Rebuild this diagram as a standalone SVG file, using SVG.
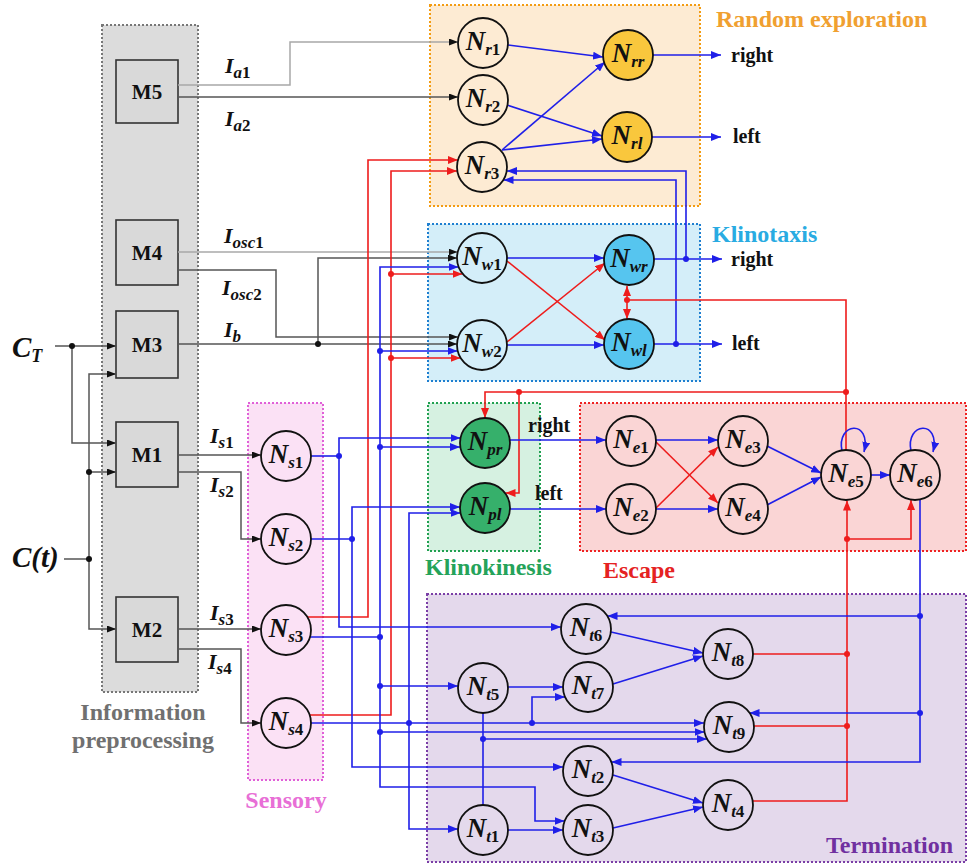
<svg xmlns="http://www.w3.org/2000/svg" width="968" height="865" viewBox="0 0 968 865">
<defs>
<style>
text{font-family:"Liberation Serif","Times New Roman",serif;font-weight:bold}
.nd circle{stroke:#111;stroke-width:1.8}
.nl{font-size:27px;font-style:italic;text-anchor:middle;fill:#111}
.s{font-size:17px;font-style:italic}
.d{font-size:17px;font-style:normal}
.bx{stroke-width:2;stroke-dasharray:2 2}
.b{fill:none;stroke:#1f1fe8;stroke-width:1.6}
.r{fill:none;stroke:#ee1c1c;stroke-width:1.6}
.k1{fill:none;stroke:#a8a8a8;stroke-width:1.5}
.k2{fill:none;stroke:#555;stroke-width:1.5}
.db{fill:#1f1fe8}.dr{fill:#ee1c1c}.dk{fill:#111}
.lab{font-size:20px;fill:#111}
.ttl{font-size:24px}
.iv{font-size:22px;font-style:italic;fill:#111}
.m{font-size:21px;text-anchor:middle;fill:#111}
.mb{fill:#d9d9d9;stroke:#333;stroke-width:1.6}
</style>
<marker id="ab" viewBox="0 0 10 8" refX="10" refY="4" markerWidth="10" markerHeight="8" markerUnits="userSpaceOnUse" orient="auto"><path d="M0,0L10,4L0,8z" fill="#1f1fe8"/></marker>
<marker id="ar" viewBox="0 0 10 8" refX="10" refY="4" markerWidth="10" markerHeight="8" markerUnits="userSpaceOnUse" orient="auto"><path d="M0,0L10,4L0,8z" fill="#ee1c1c"/></marker>
<marker id="ak" viewBox="0 0 9 7" refX="9" refY="3.5" markerWidth="9" markerHeight="7" markerUnits="userSpaceOnUse" orient="auto"><path d="M0,0L9,3.5L0,7z" fill="#111"/></marker>
</defs>
<rect width="968" height="865" fill="#fff"/>

<!-- module regions -->
<g id="regions">
<rect class="bx" x="102" y="25" width="96" height="667" fill="#dcdcdc" stroke="#777"/>
<rect class="bx" x="430" y="5" width="270" height="201" fill="#fdebd3" stroke="#f39c12"/>
<rect class="bx" x="428" y="224" width="272" height="157" fill="#d4eef9" stroke="#1e7fd0"/>
<rect class="bx" x="248" y="403" width="75" height="377" fill="#fbe1f5" stroke="#e060d8"/>
<rect class="bx" x="428" y="403" width="112" height="148" fill="#d6f1e1" stroke="#20a050"/>
<rect class="bx" x="580" y="403" width="386" height="148" fill="#fad5d5" stroke="#ee2222"/>
<rect class="bx" x="427" y="594" width="539" height="268" fill="#e4d9ec" stroke="#7a3ea6"/>
<text class="ttl" x="716" y="27" fill="#f0a030">Random exploration</text>
<text class="ttl" x="712" y="242" fill="#29abe2">Klinotaxis</text>
<text class="ttl" x="425" y="575" fill="#25a35a">Klinokinesis</text>
<text class="ttl" x="603" y="578" fill="#e52222">Escape</text>
<text class="ttl" x="826" y="853" fill="#7030a0">Termination</text>
<text class="ttl" x="286" y="808" fill="#e86fd6" text-anchor="middle">Sensory</text>
<text class="ttl" x="143" y="720" fill="#707070" text-anchor="middle">Information</text>
<text class="ttl" x="143" y="748" fill="#707070" text-anchor="middle">preprocessing</text>
</g>

<!-- preprocessing modules -->
<g id="M5"><rect class="mb" x="116" y="60" width="62" height="63"/><text class="m" x="147" y="99">M5</text></g>
<g id="M4"><rect class="mb" x="116" y="220" width="62" height="65"/><text class="m" x="147" y="260">M4</text></g>
<g id="M3"><rect class="mb" x="116" y="311" width="62" height="67"/><text class="m" x="147" y="352">M3</text></g>
<g id="M1"><rect class="mb" x="116" y="422" width="62" height="65"/><text class="m" x="147" y="462">M1</text></g>
<g id="M2"><rect class="mb" x="116" y="597" width="62" height="65"/><text class="m" x="147" y="637">M2</text></g>

<!-- inputs -->
<g id="inputs">
<text x="12" y="357" font-size="29" font-style="italic" fill="#111">C<tspan font-size="18" dy="5">T</tspan></text>
<text x="12" y="567" font-size="29" font-style="italic" fill="#111">C(t)</text>
</g>

<!-- connectors -->
<g id="connectors">
<!-- stimulus inputs to modules -->
<path class="k2" d="M55,346H116" marker-end="url(#ak)"/>
<path class="k2" d="M72,346V443H116" marker-end="url(#ak)"/>
<path class="k2" d="M64,559H89"/>
<path class="k2" d="M89,559V374H116" marker-end="url(#ak)"/>
<path class="k2" d="M89,559V629H116" marker-end="url(#ak)"/>
<path class="k2" d="M89,472H116" marker-end="url(#ak)"/>
<circle class="dk" cx="72" cy="346" r="3"/><circle class="dk" cx="89" cy="472" r="3"/><circle class="dk" cx="89" cy="559" r="3"/>

<!-- module outputs -->
<path class="k1" d="M178,85H290V42H458" marker-end="url(#ak)"/>
<path class="k2" d="M178,97H458" marker-end="url(#ak)"/>
<path class="k1" d="M178,252H457.5" marker-end="url(#ak)"/>
<path class="k2" d="M178,270H276V337H458" marker-end="url(#ak)"/>
<path class="k2" d="M178,344H457" marker-end="url(#ak)"/>
<path class="k2" d="M318,344V258H457" marker-end="url(#ak)"/>
<circle class="dk" cx="318" cy="344" r="3"/>
<path class="k2" d="M178,455H261" marker-end="url(#ak)"/>
<path class="k2" d="M178,472H241V539H261" marker-end="url(#ak)"/>
<path class="k2" d="M178,629H261" marker-end="url(#ak)"/>
<path class="k2" d="M178,649H241V723H261" marker-end="url(#ak)"/>

<!-- sensory inhibitory outputs -->
<path class="r" d="M307,617H368V160H458" marker-end="url(#ar)"/>
<path class="r" d="M310,715H391V171H457" marker-end="url(#ar)"/>
<path class="r" d="M391,274H462.5" marker-end="url(#ar)"/>
<path class="r" d="M391,358H460.5" marker-end="url(#ar)"/>
<circle class="dr" cx="391" cy="274" r="3"/><circle class="dr" cx="391" cy="358" r="3"/>

<!-- sensory excitatory buses -->
<path class="b" d="M311,456H339"/>
<path class="b" d="M339,456V438H460.5" marker-end="url(#ab)"/>
<path class="b" d="M339,456V627H561" marker-end="url(#ab)"/>
<circle class="db" cx="339" cy="456" r="3"/>
<path class="b" d="M311,539H352"/>
<path class="b" d="M352,539V507H460" marker-end="url(#ab)"/>
<path class="b" d="M352,539V767H563" marker-end="url(#ab)"/>
<circle class="db" cx="352" cy="539" r="3"/>
<path class="b" d="M310,637H380"/>
<path class="b" d="M380,637V267H458.5" marker-end="url(#ab)"/>
<path class="b" d="M380,351H457.5" marker-end="url(#ab)"/>
<path class="b" d="M380,447H460" marker-end="url(#ab)"/>
<path class="b" d="M380,637V787H535V821H564.5" marker-end="url(#ab)"/>
<path class="b" d="M380,686H458" marker-end="url(#ab)"/>
<path class="b" d="M380,732H704.5" marker-end="url(#ab)"/>
<circle class="db" cx="380" cy="351" r="3"/><circle class="db" cx="380" cy="447" r="3"/><circle class="db" cx="380" cy="637" r="3"/><circle class="db" cx="380" cy="686" r="3"/><circle class="db" cx="380" cy="732" r="3"/>
<path class="b" d="M311,723H704" marker-end="url(#ab)"/>
<path class="b" d="M409,723V513H460.5" marker-end="url(#ab)"/>
<path class="b" d="M409,723V829H458" marker-end="url(#ab)"/>
<path class="b" d="M532,723V697H565" marker-end="url(#ab)"/>
<circle class="db" cx="409" cy="723" r="3"/><circle class="db" cx="532" cy="723" r="3"/>

<!-- random exploration -->
<path class="b" d="M508,45L603,57" marker-end="url(#ab)"/>
<path class="b" d="M507,105L602,136" marker-end="url(#ab)"/>
<path class="b" d="M502,150L605,62" marker-end="url(#ab)"/>
<path class="b" d="M502,150L602,139" marker-end="url(#ab)"/>
<path class="b" d="M653,55H721" marker-end="url(#ab)"/>
<path class="b" d="M652,137H721" marker-end="url(#ab)"/>

<!-- klinotaxis -->
<path class="b" d="M507,258H604" marker-end="url(#ab)"/>
<path class="b" d="M507,345H604" marker-end="url(#ab)"/>
<path class="r" d="M507,261L605,340" marker-end="url(#ar)"/>
<path class="r" d="M507,342L605,263" marker-end="url(#ar)"/>
<path class="b" d="M654,259H722" marker-end="url(#ab)"/>
<path class="b" d="M654,344H722" marker-end="url(#ab)"/>
<path class="b" d="M686,259V171H507" marker-end="url(#ab)"/>
<path class="b" d="M676,344V180H503.5" marker-end="url(#ab)"/>
<circle class="db" cx="686" cy="259" r="3"/><circle class="db" cx="676" cy="344" r="3"/>
<path class="r" d="M627,300V286" marker-end="url(#ar)"/>
<path class="r" d="M627,300V319" marker-end="url(#ar)"/>
<circle class="dr" cx="627" cy="300" r="3"/>

<!-- escape feedback -->
<path class="r" d="M627,300H846V450"/>
<path class="r" d="M846,392H485V418" marker-end="url(#ar)"/>
<path class="r" d="M519,392V493H505.5" marker-end="url(#ar)"/>
<circle class="dr" cx="846" cy="392" r="3"/><circle class="dr" cx="519" cy="392" r="3"/>

<!-- klinokinesis to escape -->
<path class="b" d="M510,440H606" marker-end="url(#ab)"/>
<path class="b" d="M510,509H606" marker-end="url(#ab)"/>

<!-- escape -->
<path class="b" d="M656,440H718" marker-end="url(#ab)"/>
<path class="b" d="M656,509H718" marker-end="url(#ab)"/>
<path class="r" d="M656,442L718,503" marker-end="url(#ar)"/>
<path class="r" d="M656,508L718,447" marker-end="url(#ar)"/>
<path class="b" d="M767,446L821,473" marker-end="url(#ab)"/>
<path class="b" d="M767,505L821,477" marker-end="url(#ab)"/>
<path class="b" d="M871,475H890" marker-end="url(#ab)"/>
<path class="b" d="M842,451C836,422 872,419 864,452" marker-end="url(#ab)"/>
<path class="b" d="M911,451C905,422 941,419 933,452" marker-end="url(#ab)"/>

<!-- termination to escape -->
<path class="r" d="M752.5,801H847V500.5" marker-end="url(#ar)"/>
<path class="r" d="M753,654H847"/>
<path class="r" d="M754,726H847"/>
<path class="r" d="M847,539H911V500" marker-end="url(#ar)"/>
<circle class="dr" cx="847" cy="654" r="3"/><circle class="dr" cx="847" cy="726" r="3"/><circle class="dr" cx="847" cy="539" r="3"/>

<!-- escape to termination -->
<path class="b" d="M920,500V762H611.5" marker-end="url(#ab)"/>
<path class="b" d="M920,616H607.5" marker-end="url(#ab)"/>
<path class="b" d="M920,713H749.5" marker-end="url(#ab)"/>
<circle class="db" cx="920" cy="616" r="3"/><circle class="db" cx="920" cy="713" r="3"/>

<!-- termination -->
<path class="b" d="M611,632L703,653" marker-end="url(#ab)"/>
<path class="b" d="M613,684L703,656" marker-end="url(#ab)"/>
<path class="b" d="M613,775L703,803" marker-end="url(#ab)"/>
<path class="b" d="M613,828L703,807" marker-end="url(#ab)"/>
<path class="b" d="M508,687H563" marker-end="url(#ab)"/>
<path class="b" d="M508,830H563" marker-end="url(#ab)"/>
<path class="b" d="M483,713V805"/>
<path class="b" d="M483,739H707" marker-end="url(#ab)"/>
<circle class="db" cx="483" cy="739" r="3"/>
</g>

<!-- signal labels -->
<g id="signal-labels">
<text class="iv" x="225" y="73">I<tspan class="s" dy="5">a</tspan><tspan class="d">1</tspan></text>
<text class="iv" x="225" y="126">I<tspan class="s" dy="5">a</tspan><tspan class="d">2</tspan></text>
<text class="iv" x="224" y="243">I<tspan class="s" dy="5">osc</tspan><tspan class="d">1</tspan></text>
<text class="iv" x="222" y="295">I<tspan class="s" dy="5">osc</tspan><tspan class="d">2</tspan></text>
<text class="iv" x="224" y="337">I<tspan class="s" dy="5">b</tspan></text>
<text class="iv" x="210" y="443">I<tspan class="s" dy="5">s</tspan><tspan class="d">1</tspan></text>
<text class="iv" x="210" y="492">I<tspan class="s" dy="5">s</tspan><tspan class="d">2</tspan></text>
<text class="iv" x="210" y="620">I<tspan class="s" dy="5">s</tspan><tspan class="d">3</tspan></text>
<text class="iv" x="208" y="669">I<tspan class="s" dy="5">s</tspan><tspan class="d">4</tspan></text>
<text class="lab" x="731" y="62">right</text>
<text class="lab" x="733" y="143">left</text>
<text class="lab" x="731" y="266">right</text>
<text class="lab" x="732" y="350">left</text>
<text class="lab" x="528" y="432">right</text>
<text class="lab" x="535" y="500">left</text>
</g>

<!-- random exploration neurons -->
<g id="Nr1" class="nd"><circle cx="483" cy="43" r="25" fill="none"/><text class="nl" x="483" y="50">N<tspan class="s" dy="5">r</tspan><tspan class="d">1</tspan></text></g>
<g id="Nr2" class="nd"><circle cx="483" cy="100" r="25" fill="none"/><text class="nl" x="483" y="107">N<tspan class="s" dy="5">r</tspan><tspan class="d">2</tspan></text></g>
<g id="Nr3" class="nd"><circle cx="482" cy="167" r="25" fill="none"/><text class="nl" x="482" y="174">N<tspan class="s" dy="5">r</tspan><tspan class="d">3</tspan></text></g>
<g id="Nrr" class="nd"><circle cx="628" cy="55" r="25" fill="#f9c73d"/><text class="nl" x="628" y="62">N<tspan class="s" dy="5">rr</tspan></text></g>
<g id="Nrl" class="nd"><circle cx="627" cy="137" r="25" fill="#f9c73d"/><text class="nl" x="627" y="144">N<tspan class="s" dy="5">rl</tspan></text></g>

<!-- klinotaxis neurons -->
<g id="Nw1" class="nd"><circle cx="482" cy="258" r="25" fill="none"/><text class="nl" x="482" y="265">N<tspan class="s" dy="5">w</tspan><tspan class="d">1</tspan></text></g>
<g id="Nw2" class="nd"><circle cx="482" cy="345" r="25" fill="none"/><text class="nl" x="482" y="352">N<tspan class="s" dy="5">w</tspan><tspan class="d">2</tspan></text></g>
<g id="Nwr" class="nd"><circle cx="629" cy="260" r="25" fill="#56c5ef"/><text class="nl" x="629" y="267">N<tspan class="s" dy="5">wr</tspan></text></g>
<g id="Nwl" class="nd"><circle cx="629" cy="344" r="25" fill="#56c5ef"/><text class="nl" x="629" y="351">N<tspan class="s" dy="5">wl</tspan></text></g>

<!-- sensory neurons -->
<g id="Ns1" class="nd"><circle cx="286" cy="456" r="25" fill="none"/><text class="nl" x="286" y="463">N<tspan class="s" dy="5">s</tspan><tspan class="d">1</tspan></text></g>
<g id="Ns2" class="nd"><circle cx="286" cy="539" r="25" fill="none"/><text class="nl" x="286" y="546">N<tspan class="s" dy="5">s</tspan><tspan class="d">2</tspan></text></g>
<g id="Ns3" class="nd"><circle cx="286" cy="630" r="25" fill="none"/><text class="nl" x="286" y="637">N<tspan class="s" dy="5">s</tspan><tspan class="d">3</tspan></text></g>
<g id="Ns4" class="nd"><circle cx="286" cy="723" r="25" fill="none"/><text class="nl" x="286" y="730">N<tspan class="s" dy="5">s</tspan><tspan class="d">4</tspan></text></g>

<!-- klinokinesis neurons -->
<g id="Npr" class="nd"><circle cx="485" cy="443" r="25" fill="#36b06b"/><text class="nl" x="485" y="450">N<tspan class="s" dy="5">pr</tspan></text></g>
<g id="Npl" class="nd"><circle cx="485" cy="508" r="25" fill="#36b06b"/><text class="nl" x="485" y="515">N<tspan class="s" dy="5">pl</tspan></text></g>

<!-- escape neurons -->
<g id="Ne1" class="nd"><circle cx="631" cy="441" r="25" fill="none"/><text class="nl" x="631" y="448">N<tspan class="s" dy="5">e</tspan><tspan class="d">1</tspan></text></g>
<g id="Ne2" class="nd"><circle cx="631" cy="509" r="25" fill="none"/><text class="nl" x="631" y="516">N<tspan class="s" dy="5">e</tspan><tspan class="d">2</tspan></text></g>
<g id="Ne3" class="nd"><circle cx="743" cy="441" r="25" fill="none"/><text class="nl" x="743" y="448">N<tspan class="s" dy="5">e</tspan><tspan class="d">3</tspan></text></g>
<g id="Ne4" class="nd"><circle cx="743" cy="509" r="25" fill="none"/><text class="nl" x="743" y="516">N<tspan class="s" dy="5">e</tspan><tspan class="d">4</tspan></text></g>
<g id="Ne5" class="nd"><circle cx="846" cy="475" r="25" fill="none"/><text class="nl" x="846" y="482" font-weight="normal">N<tspan class="s" dy="5">e</tspan><tspan class="d">5</tspan></text></g>
<g id="Ne6" class="nd"><circle cx="915" cy="475" r="25" fill="none"/><text class="nl" x="915" y="482" font-weight="normal">N<tspan class="s" dy="5">e</tspan><tspan class="d">6</tspan></text></g>

<!-- termination neurons -->
<g id="Nt6" class="nd"><circle cx="586" cy="629" r="25" fill="none"/><text class="nl" x="586" y="636">N<tspan class="s" dy="5">t</tspan><tspan class="d">6</tspan></text></g>
<g id="Nt5" class="nd"><circle cx="483" cy="688" r="25" fill="none"/><text class="nl" x="483" y="695">N<tspan class="s" dy="5">t</tspan><tspan class="d">5</tspan></text></g>
<g id="Nt7" class="nd"><circle cx="588" cy="687" r="25" fill="none"/><text class="nl" x="588" y="694">N<tspan class="s" dy="5">t</tspan><tspan class="d">7</tspan></text></g>
<g id="Nt8" class="nd"><circle cx="728" cy="654" r="25" fill="none"/><text class="nl" x="728" y="661">N<tspan class="s" dy="5">t</tspan><tspan class="d">8</tspan></text></g>
<g id="Nt9" class="nd"><circle cx="729" cy="727" r="25" fill="none"/><text class="nl" x="729" y="734">N<tspan class="s" dy="5">t</tspan><tspan class="d">9</tspan></text></g>
<g id="Nt2" class="nd"><circle cx="588" cy="771" r="25" fill="none"/><text class="nl" x="588" y="778">N<tspan class="s" dy="5">t</tspan><tspan class="d">2</tspan></text></g>
<g id="Nt4" class="nd"><circle cx="728" cy="805" r="25" fill="none"/><text class="nl" x="728" y="812">N<tspan class="s" dy="5">t</tspan><tspan class="d">4</tspan></text></g>
<g id="Nt1" class="nd"><circle cx="483" cy="830" r="25" fill="none"/><text class="nl" x="483" y="837">N<tspan class="s" dy="5">t</tspan><tspan class="d">1</tspan></text></g>
<g id="Nt3" class="nd"><circle cx="588" cy="830" r="25" fill="none"/><text class="nl" x="588" y="837">N<tspan class="s" dy="5">t</tspan><tspan class="d">3</tspan></text></g>
</svg>
